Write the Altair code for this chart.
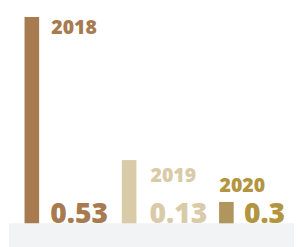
import altair as alt
import pandas as pd

years = [2018, 2019, 2020]
labels = ["2018", "2019", "2020"]
values = [0.53, 0.13, 0.3]
value_text = ["0.53", "0.13", "0.3"]
# bar heights as drawn in the picture (not proportional to the values)
bar_heights = [0.53, 0.1625, 0.055]
bar_colors = ["#a77b4f", "#d9caa8", "#b0955c"]
text_colors = ["#a77b4f", "#d9caa8", "#b4953f"]

df = pd.DataFrame({
    "year": years, "label": labels, "value": values, "vtext": value_text,
    "bar": bar_heights, "bcolor": bar_colors, "tcolor": text_colors,
})

FONT = "Open Sans"
xs = alt.Scale(domain=[2017.755, 2020.695], nice=False, zero=False, padding=0)
ys = alt.Scale(domain=[0, 0.545], nice=False, padding=0)
X = alt.X("year:Q", scale=xs, axis=None)

base = alt.Chart(df)

band = alt.Chart(pd.DataFrame({"k": [0]})).mark_rect(color="#f2f3f5").encode(
    x=alt.value(1), x2=alt.value(300), y=alt.value(218), y2=alt.value(245)
)

bars = base.mark_bar(size=15).encode(
    x=X, y=alt.Y("bar:Q", scale=ys, axis=None),
    color=alt.Color("bcolor:N", scale=None),
)

layers = [band, bars]

year_offsets = {2018: (20, 1, "top"), 2019: (22, 7, "top"), 2020: (-7, -10, "alphabetic")}
for yr, (dx, dy, bl) in year_offsets.items():
    layers.append(
        base.transform_filter(alt.datum.year == yr).mark_text(
            font=FONT, fontWeight=800, fontSize=20, align="left",
            baseline=bl, dx=dx, dy=dy,
        ).encode(
            x=X, y=alt.Y("bar:Q", scale=ys),
            text="label:N", color=alt.Color("tcolor:N", scale=None),
        )
    )

val_offsets = {2018: 19, 2019: 21, 2020: 18}
for yr, dx in val_offsets.items():
    layers.append(
        base.transform_filter(alt.datum.year == yr).mark_text(
            font=FONT, fontWeight=800, fontSize=29, align="left",
            baseline="alphabetic", dx=dx, dy=0,
        ).encode(
            x=X, y=alt.value(218),
            text="vtext:N", color=alt.Color("tcolor:N", scale=None),
        )
    )

chart = alt.layer(*layers).properties(
    width=294, height=218,
    autosize=alt.AutoSizeParams(type="none"),
    padding={"left": 0, "top": 0, "right": 0, "bottom": 21},
).configure_view(stroke=None)

chart.save("out.html", embed_options={"renderer": "svg", "actions": False})
